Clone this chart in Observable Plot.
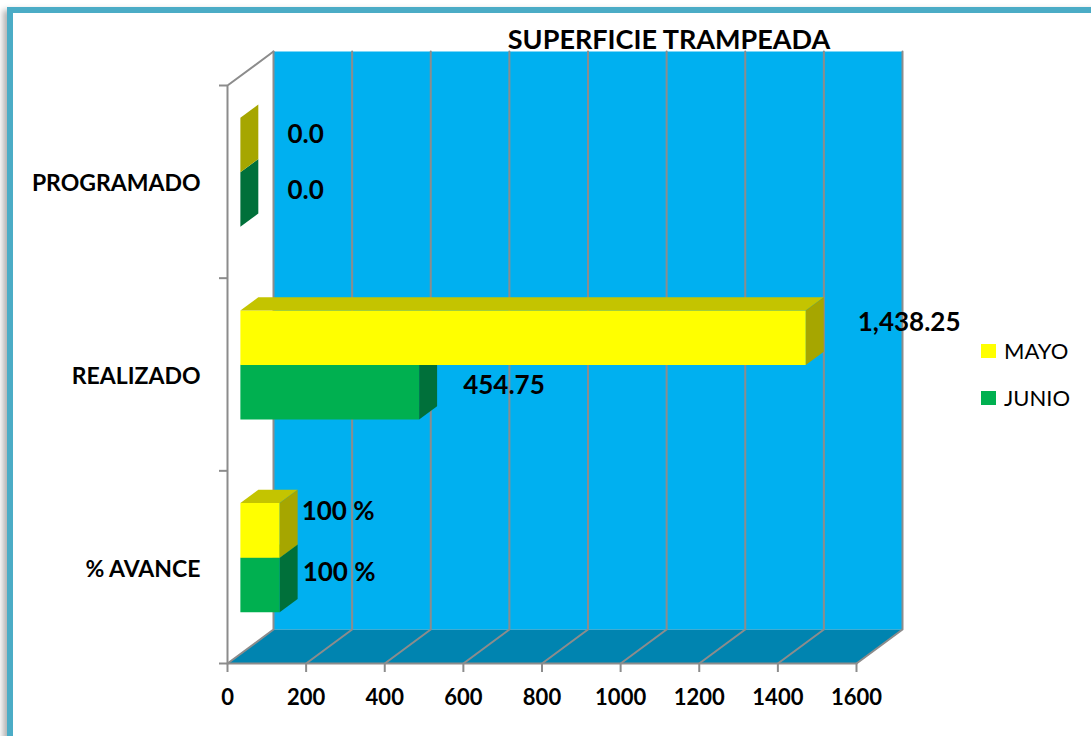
<!DOCTYPE html>
<html>
<head>
<meta charset="utf-8">
<script src="https://cdn.jsdelivr.net/npm/d3@7"></script>
<script src="https://cdn.jsdelivr.net/npm/@observablehq/plot@0.6"></script>
<style>
  html, body { margin: 0; padding: 0; background: #fff; width: 1091px; height: 736px; overflow: hidden; }
  #frame { position: absolute; left: 7px; top: 7px; width: 1300px; height: 900px; box-sizing: border-box;
           border: 6px solid #4bacc6; box-shadow: -4px 3px 6px rgba(0,0,0,0.3); }
  #chart { position: absolute; left: 0; top: 0; }
  .legend { position: absolute; font-family: Lato, "Open Sans", sans-serif; font-size: 22px; line-height: 22px; color: #000; }
  .legend .sw { position: absolute; width: 15px; height: 14px; }
  .legend .lb { position: absolute; white-space: nowrap; }
</style>
</head>
<body>
<div id="frame"></div>
<div id="chart"></div>
<div class="legend" id="legend"></div>
<script>
// ---------- data ----------
const categories = ["PROGRAMADO", "REALIZADO", "% AVANCE"];
const seriesNames = ["MAYO", "JUNIO"];
const mayo = [0, 1438.25, 100];
const junio = [0, 454.75, 100];
const mayoLabels = ["0.0", "1,438.25", "100 %"];
const junioLabels = ["0.0", "454.75", "100 %"];
const xTicks = [0, 200, 400, 600, 800, 1000, 1200, 1400, 1600];
const title = "SUPERFICIE TRAMPEADA";

// ---------- layout / style ----------
const W = 1091, H = 736;
const mL = 227, mR = W - 856, mT = 85, mB = H - 663;
const xMax = 1600;
const kx = (W - mL - mR) / xMax;             // px per value unit
const ky = (H - mT - mB) / categories.length; // px per category unit
const depth = {x: 46, y: -34};               // oblique depth offset (px)
const d0 = 0.28, d1 = 0.67;                  // bar front/back depth
const barH = 0.283;                          // height of one series bar (category units)
const P = (v, c, d) => ({x: v + d * depth.x / kx, y: c + d * depth.y / ky});
const FONT = "Lato, 'Open Sans', sans-serif";
const grid = "#8c8c8c";

const colors = {
  MAYO:  {front: "#ffff00", top: "#c4c400", side: "#a6a600"},
  JUNIO: {front: "#00b050", top: "#00903f", side: "#00703a"}
};

const poly = (pts, fill) => Plot.line(pts, {x: "x", y: "y", curve: "linear-closed", fill, stroke: "none"});
const seg = (pts) => Plot.line(pts, {x: "x", y: "y", stroke: grid, strokeWidth: 2});

const nC = categories.length;
const marks = [];

// back wall
marks.push(poly([P(0, 0, 1), P(xMax, 0, 1), P(xMax, nC, 1), P(0, nC, 1)], "#00b0f0"));
// floor
marks.push(poly([P(0, nC, 0), P(xMax, nC, 0), P(xMax, nC, 1), P(0, nC, 1)], "#0084b0"));
// gridlines on wall + floor
for (const t of xTicks) marks.push(seg([P(t, 0, 1), P(t, nC, 1), P(t, nC, 0)]));
// floor front edge, left wall edges
marks.push(seg([P(0, nC, 0), P(xMax, nC, 0)]));
marks.push(seg([P(0, 0, 1), P(0, 0, 0), P(0, nC, 0)]));

// bars (JUNIO first so MAYO front face hides its top)
// label offsets (px) per category: gap to the right of the bar, vertical shift
const series = [
  {name: "JUNIO", values: junio, labels: junioLabels, upper: false, gap: [47, 44, 23], ldy: [-9, -7, -12]},
  {name: "MAYO", values: mayo, labels: mayoLabels, upper: true, gap: [47, 52, 22], ldy: [-10, -15, -19]}
];
for (const s of series) {
  const col = colors[s.name];
  s.values.forEach((v, i) => {
    const top = s.upper ? i + 0.5 - barH : i + 0.5;
    const bot = top + barH;
    marks.push(poly([P(0, top, d0), P(v, top, d0), P(v, bot, d0), P(0, bot, d0)], col.front));
    marks.push(poly([P(0, top, d0), P(v, top, d0), P(v, top, d1), P(0, top, d1)], col.top));
    marks.push(poly([P(v, top, d0), P(v, bot, d0), P(v, bot, d1), P(v, top, d1)], col.side));
  });
}

// value labels
for (const s of series) {
  const data = s.values.map((v, i) => {
    const top = s.upper ? i + 0.5 - barH : i + 0.5;
    const p = P(v, top + barH / 2, d0);
    return {x: p.x + s.gap[i] / kx, y: p.y + s.ldy[i] / ky, text: s.labels[i]};
  });
  marks.push(Plot.text(data, {x: "x", y: "y", text: "text", textAnchor: "start",
    fontSize: 26, fontWeight: "bold", fill: "#000"}));
}

// category axis
marks.push(Plot.axisY([0, 1, 2, 3], {tickSize: 8, tickFormat: () => "", stroke: grid, strokeWidth: 2, label: null}));
marks.push(Plot.text(categories, {frameAnchor: "left", y: (d, i) => i + 0.5, text: d => d,
  textAnchor: "end", lineAnchor: "middle", dx: -27, dy: 2, fontSize: 23, fontWeight: "bold", fill: "#000"}));

// value axis
marks.push(Plot.axisX(xTicks, {tickSize: 9, tickPadding: 17, tickFormat: d => String(d), label: null,
  fontSize: 22, fontWeight: "bold", stroke: grid, strokeWidth: 2, fill: "#000"}));

// title
marks.push(Plot.text([title], {frameAnchor: "top", text: d => d, lineAnchor: "middle",
  dx: 668.5 - (mL + (W - mR)) / 2, dy: 40 - mT,
  fontSize: 27, fontWeight: "bold", fill: "#000"}));

const chart = Plot.plot({
  width: W, height: H,
  marginLeft: mL, marginRight: mR, marginTop: mT, marginBottom: mB,
  x: {domain: [0, xMax], range: [mL, W - mR], label: null},
  y: {domain: [0, nC], range: [mT, H - mB], label: null},
  style: {fontFamily: FONT, background: "transparent", overflow: "visible"},
  marks
});
document.getElementById("chart").appendChild(chart);

// legend
const legend = document.getElementById("legend");
seriesNames.forEach((n, i) => {
  const top = 344 + i * 47;
  const sw = document.createElement("div");
  sw.className = "sw"; sw.style.left = "981px"; sw.style.top = top + "px"; sw.style.background = colors[n].front;
  const lb = document.createElement("div");
  lb.className = "lb"; lb.style.left = "1004px"; lb.style.top = (top - 4) + "px"; lb.textContent = n;
  legend.appendChild(sw); legend.appendChild(lb);
});
</script>
</body>
</html>
